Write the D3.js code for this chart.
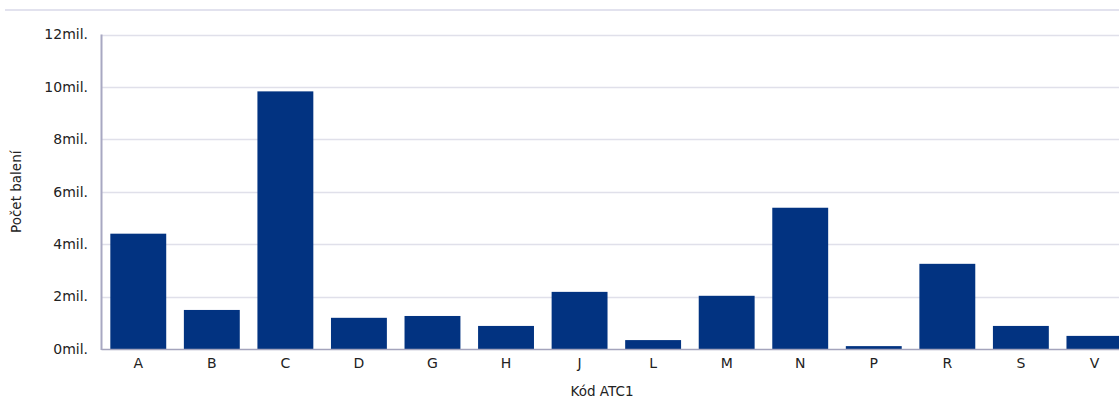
<!DOCTYPE html>
<html>
<head>
<meta charset="utf-8">
<script src="https://cdn.jsdelivr.net/npm/d3@7"></script>
<style>
  html, body { margin: 0; padding: 0; background: #fff; overflow: hidden; }
  svg { display: block; font-family: "DejaVu Sans", Verdana, sans-serif; }
</style>
</head>
<body>
<svg id="chart" width="1119" height="401"></svg>
<script>
const categories = ["A","B","C","D","G","H","J","L","M","N","P","R","S","V"];
const values = [4.40, 1.49, 9.83, 1.19, 1.26, 0.88, 2.18, 0.34, 2.03, 5.39, 0.11, 3.25, 0.88, 0.50];
const yTicks = [0, 2, 4, 6, 8, 10, 12];
const xTitle = "Kód ATC1";
const yTitle = "Počet balení";

const svg = d3.select("#chart");
const plotLeft = 101.5, plotTop = 34.5, plotBottom = 349;
const step = 73.55;
const plotRight = plotLeft + step * categories.length;

const x = d3.scaleBand().domain(categories).range([plotLeft, plotRight]).padding(0);
const y = d3.scaleLinear().domain([0, 12]).range([plotBottom, plotTop]);

// top separator line
svg.append("line").attr("x1", 5).attr("x2", 1119).attr("y1", 10).attr("y2", 10)
  .attr("stroke", "#e2e2ee").attr("stroke-width", 2);

// gridlines
svg.append("g").selectAll("line").data(yTicks.filter(d => d > 0)).join("line")
  .attr("x1", plotLeft).attr("x2", plotRight)
  .attr("y1", d => Math.round(y(d)) + 0.5).attr("y2", d => Math.round(y(d)) + 0.5)
  .attr("stroke", "#e0e0ea").attr("stroke-width", 1.5);

// bars
const bw = x.bandwidth() * 0.76;
svg.append("g").selectAll("rect").data(categories).join("rect")
  .attr("x", (d) => x(d) + (x.bandwidth() - bw) / 2)
  .attr("width", bw)
  .attr("y", (d, i) => y(values[i]))
  .attr("height", (d, i) => plotBottom - y(values[i]))
  .attr("fill", "#023381");

// axes lines
svg.append("line").attr("x1", plotLeft).attr("x2", plotRight).attr("y1", plotBottom + 0.5).attr("y2", plotBottom + 0.5)
  .attr("stroke", "#a4a4bc").attr("stroke-width", 1.5);
svg.append("line").attr("x1", plotLeft).attr("x2", plotLeft).attr("y1", plotTop).attr("y2", plotBottom + 1)
  .attr("stroke", "#a8a8c2").attr("stroke-width", 2);

// y tick labels
svg.append("g").selectAll("text").data(yTicks).join("text")
  .attr("x", 88).attr("y", d => y(d)).attr("dy", "0.35em")
  .attr("text-anchor", "end").attr("font-size", 14).attr("fill", "#222")
  .text(d => d + "mil.");

// x tick labels
svg.append("g").selectAll("text").data(categories).join("text")
  .attr("x", d => x(d) + x.bandwidth() / 2).attr("y", 368)
  .attr("text-anchor", "middle").attr("font-size", 14).attr("fill", "#222")
  .text(d => d);

// axis titles
svg.append("text").attr("x", 602).attr("y", 396).attr("text-anchor", "middle")
  .attr("font-size", 13.5).attr("fill", "#222").text(xTitle);
svg.append("text").attr("transform", "translate(21," + ((plotTop + plotBottom) / 2) + ") rotate(-90)")
  .attr("text-anchor", "middle").attr("font-size", 13.5).attr("fill", "#222").text(yTitle);
</script>
</body>
</html>
